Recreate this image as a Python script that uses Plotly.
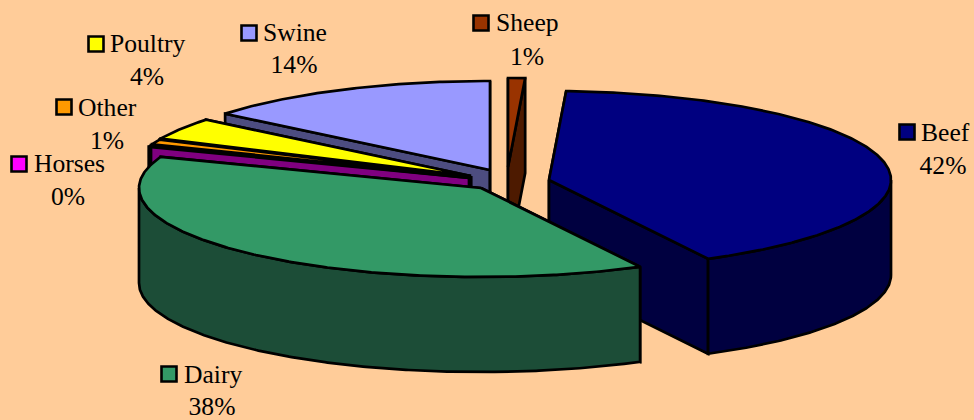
import numpy as np
import plotly.graph_objects as go

# --- data (clockwise from 12 o'clock) ---
categories = ["Sheep", "Beef", "Dairy", "Horses", "Other", "Poultry", "Swine"]
shares = [0.8, 41.5, 38.4, 0.3, 0.9, 4.0, 14.1]

# --- style ---
top_colors = ["#993300", "#000080", "#339966", "#FF00FF", "#FF9900", "#FFFF00", "#9999FF"]
side_colors = ["#4D1A00", "#000040", "#1C4D37", "#800080", "#804D00", "#808000", "#4D4D80"]
centers = [(508, 167), (549, 180), (481, 188), (469, 178), (470, 177), (471, 176), (490, 170)]
key_pos = [(481, 23), (907, 132), (169, 374), (19, 164), (64, 107), (96, 44), (249, 33)]
name_pos = [(496, 25), (921, 135), (184, 377), (34, 166), (78, 110), (110, 46), (263, 35)]
pct_pos = [(527, 59), (943, 168), (212, 409), (68, 199), (107, 143), (147, 79), (294, 67)]
draw_order = ["Sheep", "Swine", "Poultry", "Other", "Horses", "Beef", "Dairy"]
RX, RY, DEPTH = 342, 89, 95
LW = 2.7
FONT = dict(family="Liberation Serif", size=25.6, color="#000000")

fracs = np.array(shares) / sum(shares)
ends = np.cumsum(fracs) * 360
starts = ends - fracs * 360


def edge(c, deg):
    r = np.radians(deg)
    return c[0] + RX * np.sin(r), c[1] - RY * np.cos(r)


def arc(c, a0, a1):
    t = np.linspace(a0, a1, max(2, int(abs(a1 - a0) * 2) + 2))
    return edge(c, t)


fig = go.Figure()


def poly(xs, ys, fill):
    xs, ys = list(xs), list(ys)
    fig.add_trace(go.Scatter(
        x=xs + xs[:1], y=ys + ys[:1], mode="lines", fill="toself", fillcolor=fill,
        line=dict(color="#000000", width=LW), hoverinfo="skip", showlegend=False))


for name in draw_order:
    i = categories.index(name)
    c, a0, a1 = centers[i], starts[i], ends[i]
    # radial walls
    for a in (a0, a1):
        ex, ey = edge(c, a)
        poly([c[0], ex, ex, c[0]], [c[1], ey, ey + DEPTH, c[1] + DEPTH], side_colors[i])
    # outer rim (front half of the ellipse only)
    lo, hi = max(a0, 90), min(a1, 270)
    if hi > lo:
        ax, ay = arc(c, lo, hi)
        poly(list(ax) + list(ax[::-1]), list(ay) + list((ay + DEPTH)[::-1]), side_colors[i])
    # top face
    ax, ay = arc(c, a0, a1)
    poly([c[0]] + list(ax), [c[1]] + list(ay), top_colors[i])

# data labels with legend keys
fig.add_trace(go.Scatter(
    x=[p[0] for p in key_pos], y=[p[1] for p in key_pos], mode="markers",
    marker=dict(symbol="square", size=15, color=top_colors, line=dict(color="#000000", width=2.6)),
    hoverinfo="skip", showlegend=False))
fig.add_trace(go.Scatter(
    x=[p[0] for p in name_pos], y=[p[1] for p in name_pos], mode="text",
    text=categories, textposition="middle right", textfont=FONT, hoverinfo="skip", showlegend=False))
fig.add_trace(go.Scatter(
    x=[p[0] for p in pct_pos], y=[p[1] for p in pct_pos], mode="text",
    text=[f"{round(v + 1e-9)}%" for v in shares], textposition="middle center", textfont=FONT,
    hoverinfo="skip", showlegend=False))

fig.update_layout(
    width=974, height=420, margin=dict(l=0, r=0, t=0, b=0),
    paper_bgcolor="#FFCC99", plot_bgcolor="#FFCC99", showlegend=False,
    xaxis=dict(range=[0, 974], visible=False, fixedrange=True),
    yaxis=dict(range=[420, 0], visible=False, fixedrange=True),
)
fig.write_html("out.html", config={"displayModeBar": False},
               post_script="document.body.style.margin='0';document.body.style.background='#FFCC99';")
